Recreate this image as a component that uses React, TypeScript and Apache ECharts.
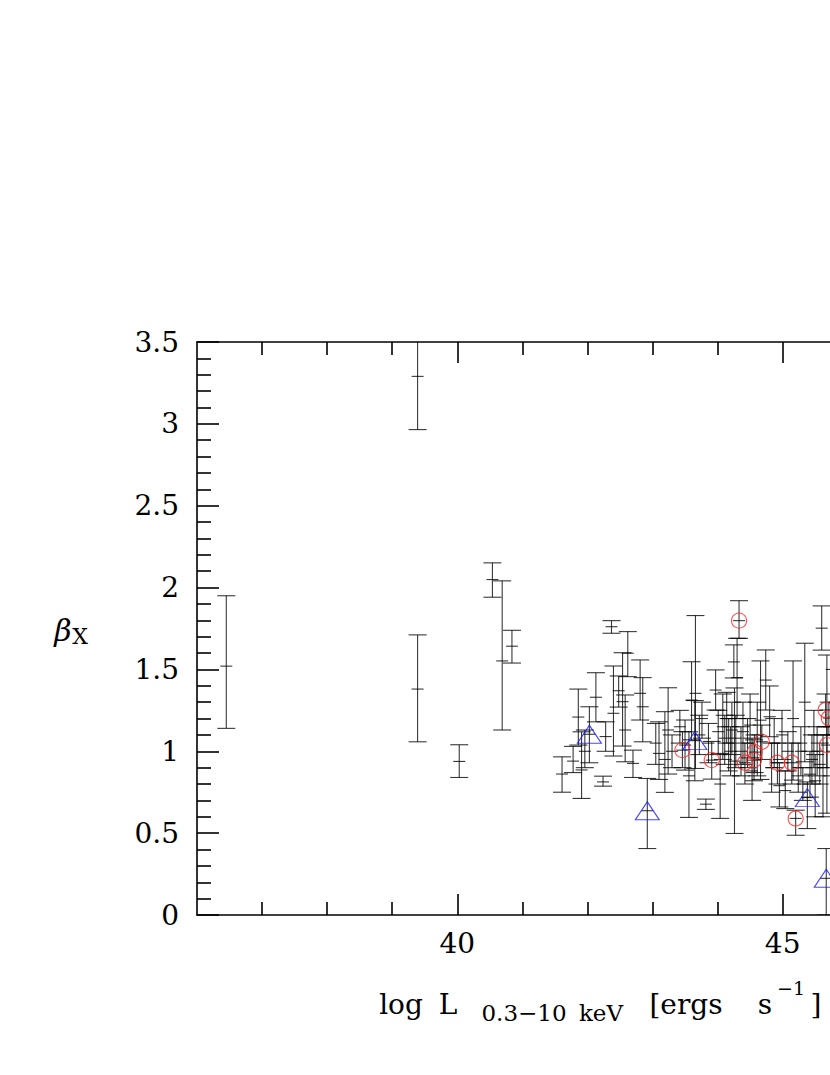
import React, { useEffect, useRef } from "react";
import * as echarts from "echarts";

const X_MIN = 36;
const X_MAX = 50;
const Y_MIN = 0;
const Y_MAX = 3.5;

const xLabelTicks = [40, 45];
const xMajorTicks = [40, 45, 50];
const xMinorTicks = [37, 38, 39, 41, 42, 43, 44, 46, 47, 48, 49];
const yLabelTicks = [0, 0.5, 1, 1.5, 2, 2.5, 3, 3.5];
const yMinorTicks = [
  0.1, 0.2, 0.3, 0.4, 0.6, 0.7, 0.8, 0.9, 1.1, 1.2, 1.3, 1.4, 1.6, 1.7, 1.8, 1.9,
  2.1, 2.2, 2.3, 2.4, 2.6, 2.7, 2.8, 2.9, 3.1, 3.2, 3.3, 3.4,
];

// [log L, beta_X, lower, upper]
const betaMeasurements = [
  [36.45, 1.52, 1.14, 1.95],
  [39.39, 3.29, 2.965, 3.62],
  [39.39, 1.38, 1.058, 1.711],
  [40.03, 0.938, 0.84, 1.04],
  [40.54, 2.049, 1.941, 2.151],
  [40.69, 1.552, 1.13, 2.041],
  [40.84, 1.642, 1.539, 1.739],
  [41.61, 0.861, 0.75, 0.966],
  [41.78, 0.94, 0.87, 1.03],
  [41.86, 1.209, 1.038, 1.38],
  [41.91, 0.886, 0.712, 1.119],
  [41.96, 1.0, 0.9, 1.13],
  [42.03, 1.104, 0.93, 1.272],
  [42.13, 1.33, 1.18, 1.48],
  [42.24, 0.813, 0.787, 0.848],
  [42.28, 1.09, 1.0, 1.18],
  [42.37, 1.761, 1.721, 1.798],
  [42.4, 1.232, 0.971, 1.521],
  [42.48, 1.37, 1.27, 1.46],
  [42.54, 1.303, 1.032, 1.602],
  [42.58, 1.13, 0.936, 1.344],
  [42.62, 1.599, 1.456, 1.731],
  [42.7, 0.926, 0.84, 1.007],
  [42.81, 1.354, 1.191, 1.558],
  [42.85, 1.272, 1.058, 1.45],
  [42.92, 0.637, 0.406, 0.834],
  [43.05, 1.05, 0.92, 1.17],
  [43.1, 0.987, 0.828, 1.18],
  [43.19, 0.95, 0.749, 1.242],
  [43.24, 1.13, 0.861, 1.388],
  [43.3, 1.0, 0.9, 1.1],
  [43.42, 1.15, 1.05, 1.25],
  [43.46, 1.007, 0.9, 1.12],
  [43.5, 1.038, 0.885, 1.191],
  [43.56, 0.85, 0.596, 1.119],
  [43.6, 1.313, 1.07, 1.547],
  [43.65, 1.065, 0.82, 1.31],
  [43.66, 1.354, 0.895, 1.829],
  [43.72, 1.1, 0.98, 1.22],
  [43.76, 1.2, 1.08, 1.3],
  [43.82, 0.677, 0.645, 0.708],
  [43.86, 1.05, 0.93, 1.17],
  [43.91, 0.946, 0.83, 1.06],
  [43.97, 1.374, 1.252, 1.497],
  [44.01, 1.12, 0.98, 1.25],
  [44.04, 0.8, 0.59, 0.987],
  [44.08, 1.15, 0.95, 1.35],
  [44.11, 1.08, 0.92, 1.22],
  [44.14, 1.2, 1.05, 1.36],
  [44.17, 1.05, 0.88, 1.2],
  [44.2, 1.0, 0.85, 1.15],
  [44.22, 1.13, 0.98, 1.3],
  [44.25, 1.546, 1.448, 1.65],
  [44.26, 0.94, 0.498, 1.387],
  [44.28, 1.08, 0.9, 1.22],
  [44.3, 1.45, 1.2, 1.69],
  [44.33, 1.798, 1.69, 1.92],
  [44.36, 1.0, 0.85, 1.15],
  [44.39, 1.12, 0.92, 1.3],
  [44.42, 0.93, 0.8, 1.05],
  [44.46, 1.05, 0.9, 1.2],
  [44.5, 1.16, 0.96, 1.35],
  [44.53, 0.88, 0.7, 1.08],
  [44.56, 0.946, 0.82, 1.07],
  [44.57, 0.995, 0.87, 1.1],
  [44.61, 1.1, 0.85, 1.3],
  [44.66, 1.19, 0.828, 1.552],
  [44.68, 1.058, 0.95, 1.16],
  [44.74, 1.435, 1.252, 1.619],
  [44.8, 1.211, 1.089, 1.399],
  [44.83, 0.9, 0.75, 1.05],
  [44.87, 1.05, 0.9, 1.2],
  [44.92, 0.93, 0.8, 1.05],
  [44.95, 0.79, 0.66, 0.93],
  [44.99, 1.1, 0.95, 1.25],
  [45.04, 0.76, 0.65, 0.88],
  [45.08, 1.0, 0.88, 1.12],
  [45.14, 0.93, 0.8, 1.05],
  [45.16, 1.2, 0.824, 1.552],
  [45.2, 0.59, 0.487, 0.64],
  [45.24, 0.9, 0.75, 1.05],
  [45.28, 1.0, 0.85, 1.15],
  [45.31, 0.8, 0.7, 0.9],
  [45.34, 1.3, 0.936, 1.66],
  [45.38, 0.717, 0.528, 0.813],
  [45.42, 0.86, 0.72, 1.0],
  [45.45, 0.95, 0.8, 1.1],
  [45.48, 1.1, 0.9, 1.25],
  [45.5, 0.82, 0.6, 0.98],
  [45.53, 1.0, 0.85, 1.15],
  [45.57, 0.92, 0.8, 1.05],
  [45.6, 1.752, 1.618, 1.888],
  [45.62, 0.9, 0.6, 1.1],
  [45.66, 1.252, 1.15, 1.35],
  [45.67, 0.224, 0.0, 0.406],
  [45.68, 1.1, 0.622, 1.588],
  [45.68, 1.038, 0.9, 1.15],
  [45.71, 1.203, 1.1, 1.3],
  [45.76, 1.0, 0.85, 1.15],
  [45.8, 1.3, 1.1, 1.5],
];

const redCircles = [
  [43.46, 1.007],
  [43.91, 0.946],
  [44.33, 1.798],
  [44.42, 0.93],
  [44.56, 0.946],
  [44.57, 0.995],
  [44.68, 1.058],
  [44.92, 0.93],
  [45.14, 0.93],
  [45.2, 0.59],
  [45.66, 1.252],
  [45.71, 1.203],
  [45.68, 1.038],
];

const blueTriangles = [
  [42.03, 1.104],
  [42.92, 0.637],
  [43.65, 1.065],
  [45.38, 0.717],
  [45.67, 0.224],
];

const CHART_W = 1200;
const CHART_H = 1075;
const SERIF = "'DejaVu Serif', serif";

export default function App() {
  const ref = useRef<HTMLDivElement>(null);

  useEffect(() => {
    if (!ref.current) return;
    const chart = echarts.init(ref.current, undefined, { renderer: "svg" });

    const axisLineStyle = { color: "#000", width: 1.6 };
    const baseX = {
      type: "value",
      min: X_MIN,
      max: X_MAX,
      splitLine: { show: false },
      axisLine: { show: false, onZero: false },
      axisLabel: { show: false },
    };
    const baseY = {
      type: "value",
      min: Y_MIN,
      max: Y_MAX,
      splitLine: { show: false },
      axisLine: { show: false, onZero: false },
      axisLabel: { show: false },
    };

    const mainFont = `28px ${SERIF}`;
    const subFont = `23px ${SERIF}`;

    const option: any = {
      animation: false,
      backgroundColor: "#fff",
      grid: { left: 197, right: CHART_W - 1108, top: 342, bottom: CHART_H - 915, containLabel: false },
      xAxis: [
        {
          ...baseX,
          position: "bottom",
          axisLine: { show: true, onZero: false, lineStyle: axisLineStyle },
          axisTick: { show: true, inside: true, length: 13, customValues: xMinorTicks, lineStyle: axisLineStyle },
          axisLabel: {
            show: true,
            customValues: xLabelTicks,
            color: "#000",
            fontFamily: SERIF,
            fontSize: 28,
            margin: 14,
          },
        },
        {
          ...baseX,
          position: "bottom",
          axisTick: { show: true, inside: true, length: 21, customValues: xMajorTicks, lineStyle: axisLineStyle },
        },
        {
          ...baseX,
          position: "top",
          axisLine: { show: true, onZero: false, lineStyle: axisLineStyle },
          axisTick: { show: true, inside: true, length: 13, customValues: xMinorTicks, lineStyle: axisLineStyle },
        },
        {
          ...baseX,
          position: "top",
          axisTick: { show: true, inside: true, length: 21, customValues: xMajorTicks, lineStyle: axisLineStyle },
        },
      ],
      yAxis: [
        {
          ...baseY,
          position: "left",
          axisLine: { show: true, onZero: false, lineStyle: axisLineStyle },
          axisTick: { show: true, inside: true, length: 14, customValues: yMinorTicks, lineStyle: axisLineStyle },
          axisLabel: {
            show: true,
            customValues: yLabelTicks,
            color: "#000",
            fontFamily: SERIF,
            fontSize: 28,
            margin: 18,
          },
        },
        {
          ...baseY,
          position: "left",
          axisTick: { show: true, inside: true, length: 22, customValues: yLabelTicks, lineStyle: axisLineStyle },
        },
        {
          ...baseY,
          position: "right",
          axisLine: { show: true, onZero: false, lineStyle: axisLineStyle },
          axisTick: { show: true, inside: true, length: 14, customValues: yMinorTicks, lineStyle: axisLineStyle },
        },
        {
          ...baseY,
          position: "right",
          axisTick: { show: true, inside: true, length: 22, customValues: yLabelTicks, lineStyle: axisLineStyle },
        },
      ],
      series: [
        {
          type: "custom",
          xAxisIndex: 0,
          yAxisIndex: 0,
          clip: true,
          silent: true,
          data: betaMeasurements,
          renderItem: (params: any, api: any) => {
            const x = api.value(0);
            const y = api.value(1);
            const lo = api.value(2);
            const hi = api.value(3);
            const pC = api.coord([x, y]);
            const pLo = api.coord([x, lo]);
            const pHi = api.coord([x, hi]);
            const cs = params.coordSys;
            const top = cs.y;
            const bottom = cs.y + cs.height;
            const yTop = Math.max(pHi[1], top);
            const yBot = Math.min(pLo[1], bottom);
            const style = { stroke: "rgba(0,0,0,0.78)", lineWidth: 1.1, fill: null };
            const children: any[] = [
              { type: "line", shape: { x1: pC[0], y1: yTop, x2: pC[0], y2: yBot }, style },
              { type: "line", shape: { x1: pC[0] - 6, y1: pC[1], x2: pC[0] + 6, y2: pC[1] }, style },
            ];
            if (pHi[1] >= top) {
              children.push({ type: "line", shape: { x1: pC[0] - 9, y1: pHi[1], x2: pC[0] + 9, y2: pHi[1] }, style });
            }
            if (pLo[1] <= bottom) {
              children.push({ type: "line", shape: { x1: pC[0] - 9, y1: pLo[1], x2: pC[0] + 9, y2: pLo[1] }, style });
            }
            return { type: "group", children };
          },
        },
        {
          type: "scatter",
          xAxisIndex: 0,
          yAxisIndex: 0,
          silent: true,
          symbol: "circle",
          symbolSize: 15,
          itemStyle: { color: "transparent", borderColor: "#ff2020", borderWidth: 1.1 },
          data: redCircles,
        },
        {
          type: "scatter",
          xAxisIndex: 0,
          yAxisIndex: 0,
          silent: true,
          symbol: "triangle",
          symbolSize: [24, 18],
          itemStyle: { color: "transparent", borderColor: "#1a1aff", borderWidth: 1.1 },
          data: blueTriangles,
        },
      ],
      graphic: [
        {
          type: "text",
          x: 63,
          y: 630,
          style: { text: "β", font: `italic 30px ${SERIF}`, fill: "#000", align: "center", verticalAlign: "middle" },
        },
        {
          type: "text",
          x: 80,
          y: 636,
          style: { text: "X", font: `22px ${SERIF}`, fill: "#000", align: "center", verticalAlign: "middle" },
        },
        { type: "text", x: 401, y: 1004, style: { text: "log", font: mainFont, fill: "#000", align: "center", verticalAlign: "middle" } },
        { type: "text", x: 448, y: 1004, style: { text: "L", font: mainFont, fill: "#000", align: "center", verticalAlign: "middle" } },
        { type: "text", x: 524, y: 1013, style: { text: "0.3−10", font: subFont, fill: "#000", align: "center", verticalAlign: "middle" } },
        { type: "text", x: 601, y: 1013, style: { text: "keV", font: subFont, fill: "#000", align: "center", verticalAlign: "middle" } },
        { type: "text", x: 686, y: 1004, style: { text: "[ergs", font: mainFont, fill: "#000", align: "center", verticalAlign: "middle" } },
        { type: "text", x: 765, y: 1004, style: { text: "s", font: mainFont, fill: "#000", align: "center", verticalAlign: "middle" } },
        { type: "text", x: 791, y: 988, style: { text: "−1", font: `19px ${SERIF}`, fill: "#000", align: "center", verticalAlign: "middle" } },
        { type: "text", x: 816, y: 1004, style: { text: "]", font: mainFont, fill: "#000", align: "center", verticalAlign: "middle" } },
      ],
    };

    chart.setOption(option);
    return () => chart.dispose();
  }, []);

  return (
    <div style={{ position: "fixed", left: 0, top: 0, width: 830, height: 1075, overflow: "hidden", background: "#fff" }}>
      <div ref={ref} style={{ width: CHART_W, height: CHART_H }} />
    </div>
  );
}
